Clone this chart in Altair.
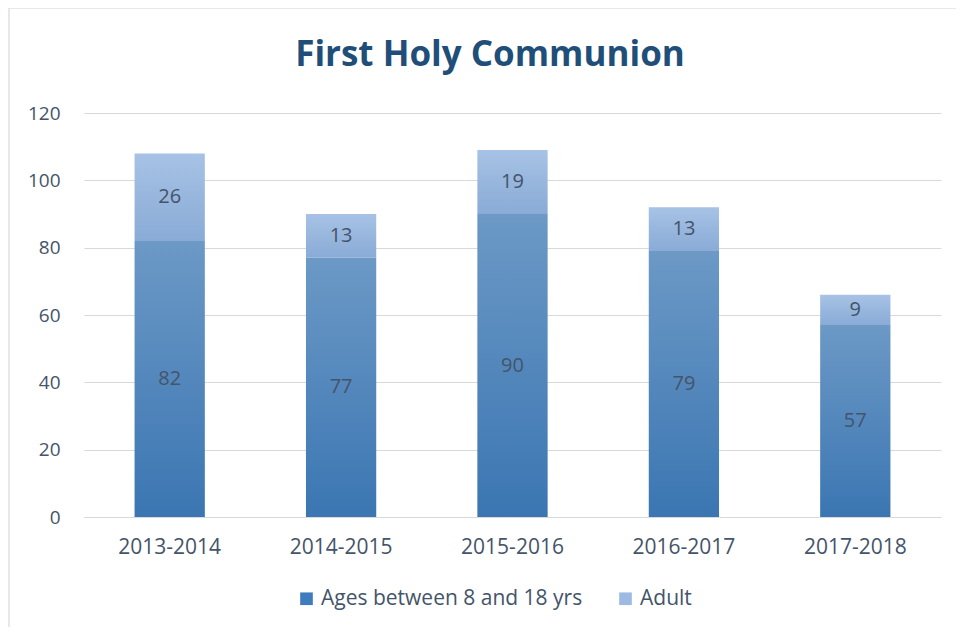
import altair as alt
import pandas as pd

years = ["2013-2014", "2014-2015", "2015-2016", "2016-2017", "2017-2018"]
ages = [82, 77, 90, 79, 57]
adult = [26, 13, 19, 13, 9]
series = ["Ages between 8 and 18 yrs", "Adult"]
title_text = "First Holy Communion"

rows = []
for y, a, b in zip(years, ages, adult):
    rows.append({"year": y, "series": series[0], "value": a, "start": 0, "end": a, "order": 0})
    rows.append({"year": y, "series": series[1], "value": b, "start": a, "end": a + b, "order": 1})
df = pd.DataFrame(rows)

FONT = "Open Sans"
TXT = "#44546a"
grad_ages = alt.Gradient(gradient="linear", x1=0, x2=0, y1=0, y2=1,
                         stops=[alt.GradientStop(color="#6c99c6", offset=0),
                                alt.GradientStop(color="#3b76b2", offset=1)])
grad_adult = alt.Gradient(gradient="linear", x1=0, x2=0, y1=0, y2=1,
                          stops=[alt.GradientStop(color="#a7c2e5", offset=0),
                                 alt.GradientStop(color="#89abd6", offset=1)])

x_enc = alt.X("year:N", sort=years, title=None,
              scale=alt.Scale(paddingInner=0.59, paddingOuter=0.295),
              axis=alt.Axis(labelAngle=0, labelFontSize=21, labelColor=TXT, labelFont=FONT,
                            ticks=False, domainColor="#d9d9d9", labelPadding=19))
y_enc = alt.Y("start:Q", title=None,
              scale=alt.Scale(domain=[0, 120]),
              axis=alt.Axis(values=[0, 20, 40, 60, 80, 100, 120], labelFontSize=19, labelColor=TXT,
                            labelFont=FONT, ticks=False, domain=False, gridColor="#d9d9d9",
                            labelPadding=24))

base = alt.Chart(df)

bars_ages = base.transform_filter(alt.datum.order == 0).mark_bar(fill=grad_ages).encode(
    x=x_enc, y=y_enc, y2="end:Q")
bars_adult = base.transform_filter(alt.datum.order == 1).mark_bar(fill=grad_adult).encode(
    x=x_enc, y=y_enc, y2="end:Q")

legend_layer = base.mark_square(opacity=0, size=0).encode(
    x=alt.X("year:N", sort=years),
    y=alt.Y("start:Q"),
    color=alt.Color("series:N", sort=series, title=None,
                    scale=alt.Scale(domain=series, range=["#3f7cbf", "#9dbbe2"]),
                    legend=alt.Legend(orient="none", legendX=212, legendY=475, direction="horizontal",
                                      symbolType="square", symbolSize=160, symbolStrokeWidth=0,
                                      symbolOpacity=1, labelLimit=400,
                                      labelFontSize=21, labelColor=TXT, labelFont=FONT,
                                      columnPadding=32, labelOffset=4)))

labels = base.transform_calculate(mid="(datum.start + datum.end) / 2").mark_text(
    fontSize=20, color=TXT, font=FONT).encode(
    x=alt.X("year:N", sort=years), y=alt.Y("mid:Q"), text="value:Q")

title = alt.Chart(pd.DataFrame({"t": [title_text]})).mark_text(
    fontSize=35, font=FONT, fontWeight="bold", color="#1f4e79", baseline="middle", align="center").encode(
    x=alt.value(406), y=alt.value(-58), text="t:N")

frame = alt.Chart(pd.DataFrame({"a": [0]})).mark_rect(fill="transparent", stroke="#dde1e6", strokeWidth=1.5).encode(
    x=alt.value(-75), x2=alt.value(900), y=alt.value(-105), y2=alt.value(560))

chart = alt.layer(frame, bars_ages, bars_adult, labels, legend_layer, title).properties(
    width=857, height=404,
    padding={"left": 76, "top": 105, "right": 15, "bottom": 110},
    autosize=alt.AutoSizeParams(type="none"),
).configure_view(stroke=None)

chart.save("out.html", embed_options={"renderer": "svg", "actions": False})
